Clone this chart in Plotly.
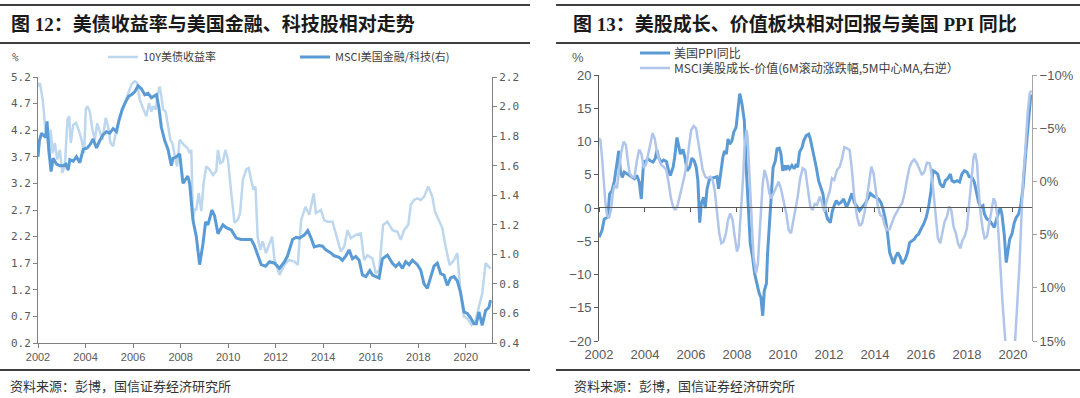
import plotly.graph_objects as go

# ---------------- Left chart data ----------------
tsy_x = [2002.00,2002.08,2002.20,2002.30,2002.40,2002.48,2002.53,2002.62,2002.71,2002.81,2002.92,
         2003.02,2003.13,2003.24,2003.31,2003.38,2003.48,2003.60,2003.73,2003.83,2003.94,
         2004.01,2004.08,2004.18,2004.29,2004.39,2004.49,2004.60,2004.71,2004.85,2004.95,
         2005.05,2005.16,2005.30,2005.41,2005.51,2005.65,2005.79,2005.93,
         2006.07,2006.17,2006.28,2006.38,2006.49,2006.56,2006.67,2006.77,2006.84,2006.95,
         2007.05,2007.12,2007.19,2007.26,2007.37,2007.47,2007.57,2007.65,2007.75,2007.85,2007.96,
         2008.07,2008.18,2008.28,2008.38,2008.45,2008.52,2008.59,2008.66,2008.76,2008.87,2008.97,
         2009.08,2009.22,2009.36,2009.50,2009.57,2009.67,2009.78,2009.88,2009.99,
         2010.13,2010.27,2010.41,2010.50,2010.62,2010.76,2010.86,2010.97,
         2011.06,2011.15,2011.24,2011.35,2011.45,2011.59,2011.73,2011.85,2011.95,
         2012.16,2012.37,2012.55,2012.79,2012.93,
         2013.07,2013.25,2013.41,2013.60,2013.69,2013.90,
         2014.04,2014.18,2014.39,2014.53,2014.74,2014.88,
         2015.02,2015.16,2015.37,2015.58,2015.72,2015.86,
         2016.07,2016.21,2016.35,2016.52,2016.70,2016.91,
         2017.12,2017.26,2017.40,2017.58,2017.68,2017.82,2017.96,
         2018.10,2018.24,2018.42,2018.59,2018.70,2018.87,
         2019.01,2019.15,2019.32,2019.50,2019.64,2019.78,2019.92,
         2020.06,2020.24,2020.41,2020.55,2020.69,2020.83,2021.04]
tsy_10y = [5.02,5.09,4.77,4.27,4.02,3.65,4.21,3.77,3.96,3.65,3.83,
           3.40,3.52,4.40,4.46,3.96,4.30,4.34,4.18,4.02,3.77,
           4.59,4.65,4.55,4.21,4.02,4.33,4.18,4.02,4.43,4.27,
           3.96,3.90,4.21,4.40,4.52,4.71,4.90,5.06,
           5.12,5.09,4.77,4.65,4.52,4.46,4.71,4.55,4.65,4.59,
           4.90,5.02,4.84,4.59,4.55,4.27,4.02,3.96,3.71,3.52,4.02,
           3.96,3.90,3.87,3.77,3.83,2.52,2.71,2.71,3.02,2.68,3.21,
           3.52,3.46,3.36,3.43,3.83,3.58,3.61,3.83,3.65,
           3.02,2.46,2.52,2.64,3.27,3.46,3.49,3.27,
           3.08,3.14,2.20,1.95,2.11,1.89,2.05,2.20,1.76,
           1.48,1.67,1.76,1.73,1.67,
           2.51,2.76,2.61,3.01,2.64,2.70,
           2.51,2.48,2.48,2.26,1.92,2.01,
           2.32,2.17,2.23,2.26,1.76,1.85,
           1.79,1.51,1.57,2.42,2.48,2.32,
           2.29,2.14,2.32,2.42,2.79,2.89,2.92,
           2.89,2.95,3.14,2.95,2.67,2.51,
           2.36,2.01,1.66,1.76,1.89,1.13,0.70,
           0.66,0.54,0.63,0.88,1.13,1.70,1.60]

msci_x = [2002.00,2002.06,2002.15,2002.25,2002.32,2002.38,2002.45,2002.55,2002.64,2002.78,2002.92,
          2003.06,2003.17,2003.27,2003.34,2003.48,2003.62,2003.76,2003.90,
          2004.07,2004.18,2004.32,2004.46,2004.60,2004.74,2004.88,
          2005.02,2005.16,2005.30,2005.41,2005.54,2005.68,2005.82,2005.93,
          2006.07,2006.21,2006.35,2006.49,2006.63,2006.77,2006.91,2006.98,
          2007.08,2007.19,2007.33,2007.47,2007.61,2007.68,2007.82,2007.96,
          2008.10,2008.30,2008.38,2008.52,2008.66,2008.80,2008.94,
          2009.05,2009.15,2009.32,2009.43,2009.57,2009.78,2009.92,
          2010.13,2010.34,2010.55,2010.76,2010.97,
          2011.10,2011.25,2011.39,2011.57,2011.74,2011.95,
          2012.16,2012.37,2012.50,2012.71,2012.86,
          2013.00,2013.20,2013.35,2013.49,2013.62,2013.83,2013.97,
          2014.11,2014.32,2014.46,2014.67,2014.81,2014.95,
          2015.09,2015.23,2015.37,2015.51,2015.65,2015.79,2015.96,
          2016.07,2016.21,2016.35,2016.49,2016.70,2016.91,
          2017.05,2017.19,2017.33,2017.47,2017.61,2017.75,2017.96,
          2018.10,2018.24,2018.38,2018.52,2018.66,2018.80,2018.94,
          2019.08,2019.22,2019.36,2019.50,2019.64,2019.78,2019.92,
          2020.06,2020.20,2020.34,2020.44,2020.55,2020.69,2020.83,2020.97,2021.04]
msci_fin_tech = [1.66,1.77,1.82,1.80,1.79,1.90,1.72,1.56,1.65,1.61,1.60,
                 1.60,1.61,1.57,1.64,1.63,1.66,1.62,1.71,
                 1.72,1.74,1.78,1.72,1.77,1.81,1.83,
                 1.82,1.85,1.83,1.91,1.98,2.03,2.07,2.08,
                 2.10,2.14,2.12,2.08,2.09,2.06,2.07,2.08,
                 2.00,1.86,1.77,1.71,1.60,1.65,1.66,1.68,
                 1.48,1.53,1.48,1.23,1.12,0.93,1.07,
                 1.22,1.20,1.30,1.26,1.14,1.20,1.18,
                 1.165,1.11,1.10,1.10,1.10,
                 1.06,0.996,0.93,0.92,0.95,0.94,
                 0.905,0.95,0.99,1.10,1.115,
                 1.11,1.13,1.16,1.11,1.05,1.06,1.055,
                 1.03,1.01,0.99,0.98,0.96,0.99,
                 1.03,0.97,0.985,0.96,0.86,0.85,0.89,
                 0.86,0.85,0.84,0.97,0.995,0.94,
                 0.917,0.94,0.905,0.95,0.93,0.96,0.93,
                 0.894,0.80,0.77,0.84,0.92,0.94,0.87,
                 0.86,0.79,0.84,0.85,0.82,0.74,0.61,
                 0.60,0.57,0.53,0.53,0.61,0.52,0.62,0.64,0.69]

# ---------------- Right chart data ----------------
ppi_x = [2002.00,2002.13,2002.23,2002.38,2002.46,2002.57,2002.67,2002.75,2002.86,2002.93,
         2003.01,2003.10,2003.22,2003.33,2003.43,2003.54,2003.65,2003.75,2003.84,2003.94,
         2004.01,2004.12,2004.23,2004.35,2004.45,2004.52,2004.59,2004.70,2004.81,2004.93,
         2005.03,2005.10,2005.22,2005.29,2005.39,2005.46,2005.54,2005.65,2005.75,2005.83,2005.94,
         2006.04,2006.14,2006.23,2006.30,2006.38,2006.45,2006.55,2006.62,2006.70,2006.81,2006.91,
         2007.01,2007.13,2007.20,2007.30,2007.39,2007.46,2007.54,2007.61,2007.68,2007.78,2007.86,2007.96,
         2008.03,2008.12,2008.22,2008.32,2008.41,2008.51,2008.58,2008.68,2008.77,2008.87,2008.97,
         2009.04,2009.12,2009.19,2009.28,2009.33,2009.42,2009.49,2009.57,2009.67,2009.74,2009.84,2009.91,2009.99,
         2010.06,2010.13,2010.20,2010.29,2010.39,2010.49,2010.58,2010.64,2010.72,2010.83,2010.90,
         2011.01,2011.12,2011.19,2011.31,2011.36,2011.45,2011.55,2011.65,2011.74,2011.84,2011.94,
         2012.06,2012.15,2012.23,2012.32,2012.42,2012.52,2012.64,2012.76,2012.86,
         2013.00,2013.10,2013.22,2013.33,2013.44,2013.58,2013.68,2013.80,2013.91,
         2014.02,2014.16,2014.26,2014.35,2014.45,2014.55,2014.64,2014.74,2014.81,2014.89,2014.99,
         2015.10,2015.19,2015.32,2015.42,2015.51,2015.61,2015.71,2015.80,2015.90,
         2016.00,2016.12,2016.23,2016.33,2016.44,2016.52,2016.62,2016.73,2016.84,2016.96,
         2017.06,2017.16,2017.28,2017.35,2017.45,2017.57,2017.68,2017.78,2017.89,
         2018.00,2018.10,2018.22,2018.32,2018.41,2018.51,2018.61,2018.70,2018.76,2018.87,2018.99,
         2019.09,2019.19,2019.31,2019.38,2019.45,2019.52,2019.62,2019.71,2019.78,2019.86,2019.96,
         2020.06,2020.15,2020.25,2020.35,2020.44,2020.54,2020.64,2020.73,2020.78]
us_ppi_yoy = [-4.4,-3.4,-1.65,-1.4,2.1,2.6,4.1,6.1,8.6,5.6,
              4.6,5.4,5.1,4.9,4.7,4.4,4.9,3.9,1.35,7.1,
              6.9,7.4,7.1,6.9,7.5,8.7,7.6,6.9,7.2,7.0,
              5.6,4.9,6.1,7.6,10.6,9.4,8.1,8.8,7.4,5.6,6.1,
              7.5,7.1,6.1,4.1,-2.2,0.6,1.6,0.0,2.9,4.4,4.5,
              4.6,4.7,2.9,5.6,7.7,8.6,8.1,10.4,9.6,10.1,11.4,12.1,
              14.6,17.2,15.6,13.1,5.6,-2.4,-5.4,-7.4,-9.9,-11.4,-12.9,
              -13.4,-16.2,-12.4,-11.4,-6.9,-2.4,1.6,6.1,7.1,8.9,9.0,8.2,5.6,
              6.4,5.7,6.4,5.9,6.4,5.9,6.6,6.1,8.4,9.1,10.1,
              10.9,11.1,10.4,8.6,7.6,6.1,4.1,3.1,2.1,-0.4,-1.65,
              -2.2,-0.4,0.35,1.1,0.6,0.85,1.35,0.1,0.85,
              2.2,0.85,0.1,-0.4,0.1,0.7,1.35,2.2,1.85,
              1.6,1.35,0.85,-0.15,-1.65,-3.9,-6.7,-7.7,-8.4,-7.4,-6.7,
              -7.4,-8.4,-7.7,-6.7,-5.2,-4.9,-4.7,-4.2,-3.9,
              -3.2,-2.4,-1.4,0.1,2.6,5.6,5.4,5.1,3.6,3.1,
              4.1,4.4,5.1,4.1,3.9,4.1,3.9,5.1,5.6,
              5.4,4.7,4.6,3.9,2.6,0.85,0.1,0.35,-0.9,-1.65,-1.9,
              -2.4,-2.9,-1.4,-0.65,0.1,-0.9,-3.9,-8.2,-6.7,-4.7,-3.9,
              -2.2,-1.4,-0.9,0.6,3.1,7.6,11.6,14.6,17.1]

gv_x = [2002.00,2002.06,2002.13,2002.20,2002.28,2002.35,2002.43,2002.52,2002.61,2002.68,2002.78,2002.87,2002.96,
        2003.07,2003.17,2003.25,2003.33,2003.43,2003.54,2003.65,2003.75,2003.84,2003.94,
        2004.04,2004.13,2004.23,2004.33,2004.42,2004.52,2004.62,2004.71,2004.81,2004.93,
        2005.03,2005.13,2005.22,2005.32,2005.42,2005.51,2005.61,2005.71,2005.83,2005.93,
        2006.01,2006.12,2006.22,2006.30,2006.41,2006.51,2006.62,2006.72,2006.84,2006.94,
        2007.03,2007.13,2007.23,2007.32,2007.42,2007.52,2007.61,2007.71,2007.81,2007.90,
        2008.00,2008.07,2008.17,2008.26,2008.33,2008.41,2008.46,2008.54,2008.62,2008.72,2008.83,2008.91,
        2009.01,2009.12,2009.20,2009.30,2009.41,2009.49,2009.59,2009.70,2009.81,2009.91,
        2010.03,2010.14,2010.25,2010.35,2010.43,2010.54,2010.64,2010.75,2010.86,2010.97,
        2011.07,2011.19,2011.29,2011.38,2011.48,2011.60,2011.70,2011.80,2011.91,
        2012.03,2012.13,2012.23,2012.35,2012.47,2012.57,2012.67,2012.78,2012.90,
        2013.00,2013.10,2013.22,2013.33,2013.44,2013.54,2013.65,2013.76,2013.84,2013.94,
        2014.05,2014.13,2014.23,2014.33,2014.42,2014.52,2014.64,2014.74,2014.84,2014.96,
        2015.07,2015.18,2015.29,2015.39,2015.51,2015.61,2015.71,2015.83,2015.94,
        2016.04,2016.15,2016.26,2016.38,2016.45,2016.55,2016.65,2016.74,2016.84,2016.94,
        2017.03,2017.13,2017.23,2017.32,2017.42,2017.52,2017.61,2017.71,2017.81,2017.90,
        2018.00,2018.10,2018.19,2018.29,2018.36,2018.44,2018.51,2018.58,2018.68,2018.77,2018.87,2018.97,
        2019.06,2019.16,2019.23,2019.31,2019.38,2019.45,2019.55,2019.67,2019.80,2019.95,
        2020.10,2020.20,2020.29,2020.36,2020.44,2020.54,2020.64,2020.73,2020.80]
msci_growth_value = [-4.05,-3.9,-2.3,0.2,2.06,3.16,3.47,2.69,0.96,0.34,0.65,-1.07,-2.64,
                     -3.73,-3.42,-2.0,-0.76,-0.44,-0.38,-2.0,-3.0,-2.64,-1.38,
                     -1.54,-2.48,-3.58,-4.52,-4.05,-2.8,-2.0,-1.54,-1.38,-1.07,
                     0.18,1.59,2.37,2.69,2.22,1.28,0.5,-0.44,-1.85,-3.58,
                     -4.83,-5.2,-4.99,-3.9,-2.32,-1.07,-0.44,-0.29,-0.44,-0.13,
                     0.81,2.69,4.88,5.82,5.66,4.88,3.63,3.0,3.63,5.19,
                     6.6,6.13,3.31,-0.13,-3.26,-4.83,-4.2,-1.07,3.0,7.07,8.64,7.7,
                     3.94,0.18,-1.07,-0.29,1.12,1.59,1.12,0.5,0.03,0.65,
                     1.75,3.0,4.57,4.88,3.94,2.69,1.43,-0.29,-1.23,-1.07,
                     0.34,2.37,2.69,2.12,2.22,1.43,2.06,2.84,1.75,
                     0.96,-0.29,-0.13,-1.07,-1.38,-2.17,-3.2,-3.1,-2.95,
                     -1.07,1.43,3.31,4.19,3.94,3.0,1.59,-0.44,-1.38,-0.76,
                     0.81,2.37,3.16,3.31,4.1,4.57,4.5,3.94,3.31,2.84,
                     2.37,2.06,1.12,-0.13,-1.38,-1.85,-2.07,-1.7,-1.07,
                     -0.6,-0.91,-1.76,-1.7,-0.91,1.12,3.63,5.35,5.82,4.88,
                     3.78,3.31,2.37,2.69,4.25,4.88,5.82,6.29,5.51,5.19,
                     4.41,2.06,-0.44,-2.32,-2.64,-1.7,0.81,2.69,4.41,5.35,5.19,3.94,
                     2.69,1.59,1.9,3.0,5.19,8.33,11.46,15.06,20.0,20.5,
                     15.06,11.46,7.7,3.94,-0.13,-2.95,-6.4,-8.28,-8.53]

# ---------------- Axis ticks / labels ----------------
year_ticks = [2002, 2004, 2006, 2008, 2010, 2012, 2014, 2016, 2018, 2020]
year_labels = [str(y) for y in year_ticks]
left_y_ticks = [0.2, 0.7, 1.2, 1.7, 2.2, 2.7, 3.2, 3.7, 4.2, 4.7, 5.2]
left_y2_ticks = [0.4, 0.6, 0.8, 1.0, 1.2, 1.4, 1.6, 1.8, 2.0, 2.2]
right_y_ticks = [-20, -15, -10, -5, 0, 5, 10, 15, 20]
right_y2_ticks = [-10, -5, 0, 5, 10, 15]
right_y2_labels = ["\u221210%", "\u22125%", "0%", "5%", "10%", "15%"]

title_left = "图 12：美债收益率与美国金融、科技股相对走势"
title_right = "图 13：美股成长、价值板块相对回报与美国 PPI 同比"
source_text = "资料来源：彭博，国信证券经济研究所"
name_tsy = "10Y美债收益率"
name_msci = "MSCI美国金融/科技(右)"
name_ppi = "美国PPI同比"
name_gv = "MSCI美股成长-价值(6M滚动涨跌幅,5M中心MA,右逆）"

DARK = "#5B9BD5"
LIGHT_L = "#BDD7EE"
LIGHT_R = "#AFC6EA"
AXIS = "#808080"
TXT = "#595959"
CJK = "Noto Sans CJK SC"

W, H = 1080, 398
def px(x):
    return x / W
def py(y):
    return 1 - y / H

fig = go.Figure()

fig.add_trace(go.Scatter(x=tsy_x, y=tsy_10y, mode="lines", name=name_tsy,
                         line=dict(color=LIGHT_L, width=2.5), xaxis="x", yaxis="y", legend="legend"))
fig.add_trace(go.Scatter(x=msci_x, y=msci_fin_tech, mode="lines", name=name_msci,
                         line=dict(color=DARK, width=3), xaxis="x", yaxis="y2", legend="legend"))

fig.add_trace(go.Scatter(x=gv_x, y=msci_growth_value, mode="lines", name=name_gv,
                         line=dict(color=LIGHT_R, width=2.5), xaxis="x2", yaxis="y4", showlegend=False))
fig.add_trace(go.Scatter(x=ppi_x, y=us_ppi_yoy, mode="lines", name=name_ppi,
                         line=dict(color=DARK, width=3), xaxis="x2", yaxis="y3", showlegend=False))
# dummy trace to activate the zero-line axis of the right chart
fig.add_trace(go.Scatter(x=[None], y=[None], xaxis="x3", yaxis="y3", showlegend=False, hoverinfo="skip"))

tickfont_l = dict(family="DejaVu Sans Mono, " + CJK, size=11, color=TXT)
tickfont_r = dict(family="Liberation Sans, Arial", size=13, color=TXT)

ldom_x = [px(38), px(492)]
ldom_y = [py(343), py(77)]
rdom_x = [px(599), px(1032)]
rdom_y = [py(341), py(75)]

fig.update_layout(
    width=W, height=H, margin=dict(l=0, r=0, t=0, b=0, autoexpand=False),
    paper_bgcolor="white", plot_bgcolor="white",
    xaxis=dict(domain=ldom_x, anchor="y", range=[2002, 2021.1], tickvals=year_ticks, ticktext=year_labels,
               showgrid=False, zeroline=False, showline=True, linecolor=AXIS, linewidth=1,
               ticks="outside", ticklen=4, tickcolor=AXIS, automargin=False,
               tickfont=dict(family="Liberation Sans Narrow, Liberation Sans", size=11, color=TXT)),
    yaxis=dict(domain=ldom_y, anchor="x", range=[0.2, 5.2], tickvals=left_y_ticks, tickformat=".1f",
               showgrid=False, zeroline=False, showline=True, linecolor=AXIS, linewidth=1,
               ticks="outside", ticklen=4, tickcolor=AXIS, tickfont=tickfont_l, automargin=False),
    yaxis2=dict(overlaying="y", side="right", anchor="x", range=[0.4, 2.2], tickvals=left_y2_ticks,
                tickformat=".1f", showgrid=False, zeroline=False, showline=True, linecolor=AXIS, linewidth=1,
                ticks="outside", ticklen=4, tickcolor=AXIS, tickfont=tickfont_l, automargin=False),
    xaxis2=dict(domain=rdom_x, anchor="y3", range=[2002, 2020.83], tickvals=year_ticks, ticktext=year_labels,
                showgrid=False, zeroline=False, showline=False, ticks="", tickfont=tickfont_r,
                automargin=False, ticklabelstandoff=4),
    xaxis3=dict(overlaying="x2", anchor="free", position=py(207.3), range=[2002, 2020.83],
                tickvals=year_ticks, showticklabels=False, showgrid=False, zeroline=False,
                showline=True, linecolor="#595959", linewidth=1.2, ticks="outside", ticklen=4,
                tickcolor="#595959", automargin=False),
    yaxis3=dict(domain=rdom_y, anchor="x2", range=[-20, 20], tickvals=right_y_ticks,
                showgrid=False, zeroline=False, showline=True, linecolor="#595959", linewidth=1,
                ticks="outside", ticklen=4, tickcolor="#595959", tickfont=tickfont_r, automargin=False),
    yaxis4=dict(overlaying="y3", side="right", anchor="x2", range=[15, -10], tickvals=right_y2_ticks,
                ticktext=right_y2_labels, showgrid=False, zeroline=False, showline=True,
                linecolor="#A6A6A6", linewidth=1, ticks="outside", ticklen=4, tickcolor="#A6A6A6",
                tickfont=tickfont_r, automargin=False),
    legend=dict(orientation="h", x=px(103), y=py(57), xanchor="left", yanchor="middle",
                font=dict(family=CJK, size=11, color="#404040"), bgcolor="rgba(0,0,0,0)",
                entrywidth=147, entrywidthmode="pixels", itemwidth=30),
    showlegend=True,
)

# header / footer rules + right-chart legend samples
shapes = []
for (x0, x1) in [(0, 530), (556, 1080)]:
    for yy in (5, 43, 370):
        shapes.append(dict(type="line", xref="paper", yref="paper", x0=px(x0), x1=px(x1),
                           y0=py(yy), y1=py(yy), line=dict(color="#3f3f3f", width=2)))
legend_items_r = [(name_ppi, DARK, 53, 3), (name_gv, LIGHT_R, 68, 2.5)]
for name, col, yy, wd in legend_items_r:
    shapes.append(dict(type="line", xref="paper", yref="paper", x0=px(640), x1=px(670),
                       y0=py(yy), y1=py(yy), line=dict(color=col, width=wd)))
fig.update_layout(shapes=shapes)

ann = [
    dict(text="<b>" + title_left + "</b>", x=px(9), y=py(24), xref="paper", yref="paper",
         xanchor="left", yanchor="middle", showarrow=False,
         font=dict(family="Liberation Serif, " + CJK, size=19, color="#1a1a1a")),
    dict(text="<b>" + title_right + "</b>", x=px(571), y=py(24), xref="paper", yref="paper",
         xanchor="left", yanchor="middle", showarrow=False,
         font=dict(family="Liberation Serif, " + CJK, size=19, color="#1a1a1a")),
    dict(text=source_text, x=px(8), y=py(385), xref="paper", yref="paper", xanchor="left",
         yanchor="middle", showarrow=False, font=dict(family=CJK, size=13, color="#333333")),
    dict(text=source_text, x=px(572), y=py(385), xref="paper", yref="paper", xanchor="left",
         yanchor="middle", showarrow=False, font=dict(family=CJK, size=13, color="#333333")),
    dict(text="%", x=px(15), y=py(57), xref="paper", yref="paper", xanchor="center",
         yanchor="middle", showarrow=False, font=dict(family="DejaVu Sans Mono", size=11, color=TXT)),
    dict(text="%", x=px(578), y=py(57), xref="paper", yref="paper", xanchor="center",
         yanchor="middle", showarrow=False, font=dict(family="Liberation Sans", size=13, color=TXT)),
]
for name, col, yy, wd in legend_items_r:
    ann.append(dict(text=name, x=px(672), y=py(yy), xref="paper", yref="paper", xanchor="left",
                    yanchor="middle", showarrow=False,
                    font=dict(family=CJK, size=12, color="#404040")))
fig.update_layout(annotations=ann)

fig.write_html("out.html", config={"displayModeBar": False},
               post_script="document.body.style.margin='0px';document.body.style.overflow='hidden';")
